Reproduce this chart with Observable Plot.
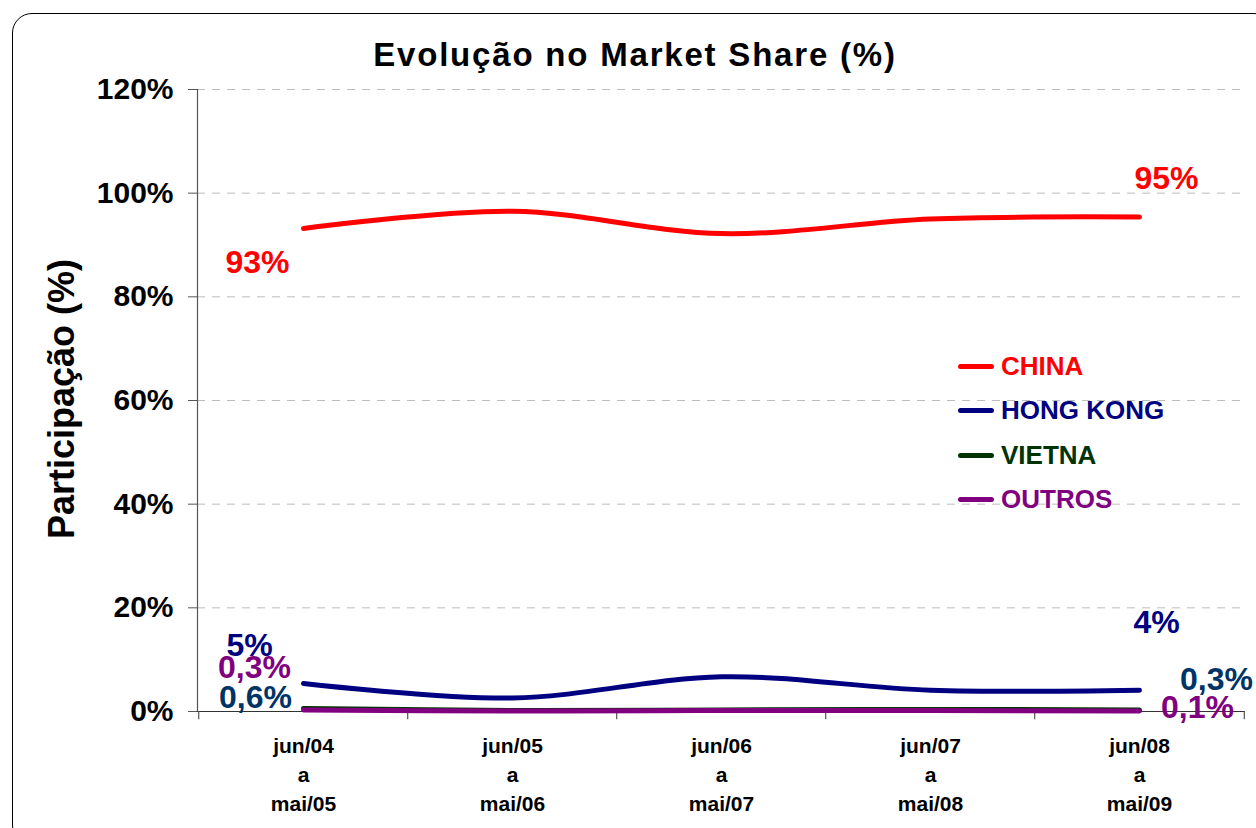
<!DOCTYPE html>
<html>
<head>
<meta charset="utf-8">
<script src="https://cdn.jsdelivr.net/npm/d3@7"></script>
<script src="https://cdn.jsdelivr.net/npm/@observablehq/plot@0.6"></script>
<style>
  html, body { margin: 0; padding: 0; background: #fff; overflow: hidden; }
  #wrap { position: relative; width: 1256px; height: 828px; overflow: hidden; font-family: "Liberation Sans", Arial, sans-serif; }
  #border { position: absolute; left: 12px; top: 13px; width: 1262px; height: 832px; border: 1.5px solid #000; border-radius: 20px; box-sizing: border-box; }
  #title { position: absolute; left: 0; width: 1270px; top: 35px; text-align: center; font-weight: bold; font-size: 33px; letter-spacing: 1.8px; color: #000; line-height: 40px; }
  #ylabel { position: absolute; left: 62px; top: 399px; transform: translate(-50%, -50%) rotate(-90deg); white-space: nowrap; font-weight: bold; font-size: 36px; color: #000; }
  #legend { position: absolute; left: 958px; top: 344px; }
  .li { display: flex; align-items: center; height: 44.5px; font-weight: bold; font-size: 26px; }
  .sw { width: 36px; height: 5px; border-radius: 3px; margin-right: 7px; }
  #chart { position: absolute; left: 0; top: 0; }
</style>
</head>
<body>
<div id="wrap">
  <div id="chart"></div>
  <div id="border"></div>
  <div id="title">Evolução no Market Share (%)</div>
  <div id="ylabel">Participação (%)</div>
  <div id="legend"></div>
</div>
<script>
const periods = ["jun/04\na\nmai/05", "jun/05\na\nmai/06", "jun/06\na\nmai/07", "jun/07\na\nmai/08", "jun/08\na\nmai/09"];
const seriesNames = ["CHINA", "HONG KONG", "VIETNA", "OUTROS"];
const china    = [93.2, 96.5, 92.2, 95.0, 95.4];
const hongKong = [5.4, 2.6, 6.7, 4.1, 4.1];
const vietna   = [0.6, 0.2, 0.3, 0.4, 0.3];
const outros   = [0.3, 0.1, 0.2, 0.2, 0.1];
const colors = {"CHINA": "#ff0000", "HONG KONG": "#000080", "VIETNA": "#003300", "OUTROS": "#800080"};
const labelColors = {"CHINA": "#ff0000", "HONG KONG": "#000080", "VIETNA": "#003366", "OUTROS": "#800080"};
const firstLabels = ["93%", "5%", "0,6%", "0,3%"];
const lastLabels  = ["95%", "4%", "0,3%", "0,1%"];
const yTicks = [0, 20, 40, 60, 80, 100, 120];

const allValues = [china, hongKong, vietna, outros];
const data = [];
seriesNames.forEach((s, i) => periods.forEach((p, j) => data.push({series: s, period: p, value: allValues[i][j]})));

// label offsets (style only)
const firstOff = {"CHINA": [-46, 34], "HONG KONG": [-54, -38], "VIETNA": [-48, -11], "OUTROS": [-49, -42]};
const lastOff  = {"CHINA": [27, -38], "HONG KONG": [17, -67], "VIETNA": [77, -30], "OUTROS": [58, -3]};
const labelMarks = [];
seriesNames.forEach((s, i) => {
  labelMarks.push(Plot.text([{period: periods[0], value: allValues[i][0], t: firstLabels[i]}], {
    x: "period", y: "value", text: "t", fill: labelColors[s], fontSize: 32, fontWeight: "bold",
    dx: firstOff[s][0], dy: firstOff[s][1]
  }));
  labelMarks.push(Plot.text([{period: periods[4], value: allValues[i][4], t: lastLabels[i]}], {
    x: "period", y: "value", text: "t", fill: labelColors[s], fontSize: 32, fontWeight: "bold",
    dx: lastOff[s][0], dy: lastOff[s][1]
  }));
});

const W = 1256, H = 828, mL = 197, mR = 11, mT = 89, mB = 117;
const half = (W - mL - mR) / periods.length / 2;

const chart = Plot.plot({
  width: W, height: H,
  marginLeft: mL, marginRight: mR, marginTop: mT, marginBottom: mB,
  style: {fontFamily: "'Liberation Sans', Arial, sans-serif", background: "transparent", overflow: "visible"},
  x: {type: "point", domain: periods, padding: 0.5, axis: null},
  y: {domain: [0, 120], axis: null},
  color: {domain: seriesNames, range: seriesNames.map(s => colors[s])},
  marks: [
    Plot.gridY(yTicks.filter(d => d > 0), {stroke: "#bdbdbd", strokeOpacity: 1, strokeDasharray: "8,7", strokeWidth: 1}),
    Plot.axisY(yTicks, {tickFormat: d => d + "%", tickSize: 9, tickPadding: 15, fontSize: 30, fontWeight: "bold", stroke: "#555", fill: "#000", label: null}),
    Plot.frame({anchor: "left", stroke: "#555", strokeWidth: 1.2}),
    Plot.ruleY([0], {stroke: "#333", strokeWidth: 1.2}),
    Plot.ruleX(periods, {x: d => d, y1: 0, y2: -1.6, dx: -half, stroke: "#555", strokeWidth: 1.2}),
    Plot.ruleX([periods[periods.length - 1]], {x: d => d, y1: 0, y2: -1.6, dx: half, stroke: "#555", strokeWidth: 1.2}),
    Plot.text(periods, {x: d => d, y: 0, text: d => d, dy: 21, lineAnchor: "top", lineHeight: 1.38, fontSize: 21, fontWeight: "bold", fill: "#000"}),
    Plot.line(data.filter(d => d.series === "VIETNA" || d.series === "OUTROS"), {x: "period", y: "value", z: "series", stroke: "series", strokeWidth: 5, curve: "catmull-rom", strokeLinecap: "round"}),
    Plot.line(data.filter(d => d.series === "CHINA" || d.series === "HONG KONG"), {x: "period", y: "value", z: "series", stroke: "series", strokeWidth: 5, curve: "catmull-rom", strokeLinecap: "round"}),
    ...labelMarks
  ]
});
document.getElementById("chart").appendChild(chart);

const legend = document.getElementById("legend");
seriesNames.forEach(s => {
  const row = document.createElement("div");
  row.className = "li";
  row.innerHTML = `<span class="sw" style="background:${colors[s]}"></span><span style="color:${colors[s]}">${s}</span>`;
  legend.appendChild(row);
});
</script>
</body>
</html>
